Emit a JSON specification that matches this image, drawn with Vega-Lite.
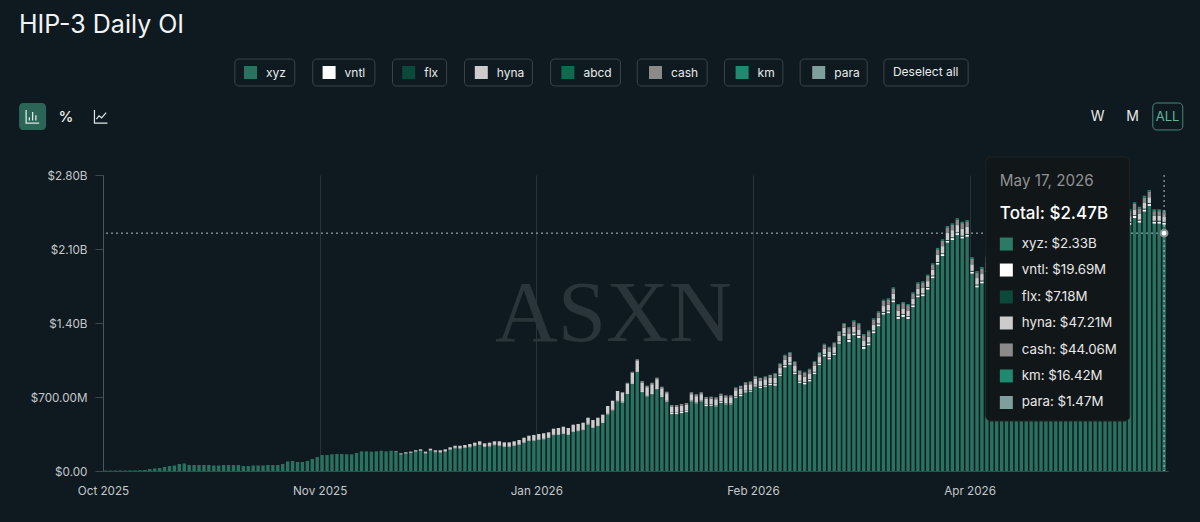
{"$schema":"https://vega.github.io/schema/vega-lite/v6.json",
"width":1065,"height":296,
"autosize":{"type":"none"},
"padding":{"left":103,"top":175,"right":32,"bottom":51},
"background":"#0f1a20",
"title":{"text":"HIP-3 Daily OI","anchor":"start","frame":"group","dx":-84,"offset":21,"fontSize":25,"fontWeight":400,"color":"#f2f4f4","font":"Inter"},
"config":{"view":{"stroke":null},"font":"Inter"},
"datasets":{"oi":[
{"date":"2025-10-14","xyz":4},{"date":"2025-10-15","xyz":4},{"date":"2025-10-16","xyz":4},{"date":"2025-10-17","xyz":5},{"date":"2025-10-18","xyz":5},{"date":"2025-10-19","xyz":5},{"date":"2025-10-20","xyz":5},{"date":"2025-10-21","xyz":7},{"date":"2025-10-22","xyz":10},{"date":"2025-10-23","xyz":19},
{"date":"2025-10-24","xyz":24},{"date":"2025-10-25","xyz":28},{"date":"2025-10-26","xyz":38},{"date":"2025-10-27","xyz":47},{"date":"2025-10-28","xyz":52},{"date":"2025-10-29","xyz":66},{"date":"2025-10-30","xyz":71},{"date":"2025-10-31","xyz":57},
{"date":"2025-11-01","xyz":57},{"date":"2025-11-02","xyz":57},{"date":"2025-11-03","xyz":57},{"date":"2025-11-04","xyz":57},{"date":"2025-11-05","xyz":52},{"date":"2025-11-06","xyz":52},{"date":"2025-11-07","xyz":57},{"date":"2025-11-08","xyz":57},{"date":"2025-11-09","xyz":57},{"date":"2025-11-10","xyz":57},
{"date":"2025-11-11","xyz":47},{"date":"2025-11-12","xyz":47},{"date":"2025-11-13","xyz":52},{"date":"2025-11-14","xyz":52},{"date":"2025-11-15","xyz":52},{"date":"2025-11-16","xyz":57},{"date":"2025-11-17","xyz":57},{"date":"2025-11-18","xyz":57},{"date":"2025-11-19","xyz":66},{"date":"2025-11-20","xyz":90},
{"date":"2025-11-21","xyz":95},{"date":"2025-11-22","xyz":85},{"date":"2025-11-23","xyz":85},{"date":"2025-11-24","xyz":95},{"date":"2025-11-25","xyz":114},{"date":"2025-11-26","xyz":132},{"date":"2025-11-27","xyz":151},{"date":"2025-11-28","xyz":151},{"date":"2025-11-29","xyz":158},{"date":"2025-11-30","xyz":161},
{"date":"2025-12-01","xyz":161},{"date":"2025-12-02","xyz":158},{"date":"2025-12-03","xyz":158},{"date":"2025-12-04","xyz":170},{"date":"2025-12-05","xyz":186},{"date":"2025-12-06","xyz":186},{"date":"2025-12-07","xyz":183},{"date":"2025-12-08","xyz":186},{"date":"2025-12-09","xyz":192},{"date":"2025-12-10","xyz":186},{"date":"2025-12-11","xyz":192},
{"date":"2025-12-12","xyz":186,"vntl":3},{"date":"2025-12-13","xyz":158,"vntl":3,"hyna":6},{"date":"2025-12-14","xyz":165,"vntl":3,"hyna":9},{"date":"2025-12-15","xyz":170,"vntl":3,"hyna":10},{"date":"2025-12-16","xyz":183,"vntl":3,"hyna":10},{"date":"2025-12-17","xyz":190,"vntl":3,"hyna":12},
{"date":"2025-12-18","xyz":167,"vntl":4,"hyna":12},{"date":"2025-12-19","xyz":195,"vntl":4,"hyna":12},{"date":"2025-12-20","xyz":178,"vntl":4,"hyna":14},{"date":"2025-12-21","xyz":176,"vntl":4,"hyna":16},{"date":"2025-12-22","xyz":185,"vntl":4,"hyna":16},
{"date":"2025-12-23","xyz":202,"vntl":4,"hyna":18},{"date":"2025-12-24","xyz":215,"vntl":4,"hyna":20},{"date":"2025-12-25","xyz":213,"vntl":4,"hyna":22},{"date":"2025-12-26","xyz":218,"vntl":4,"hyna":24},{"date":"2025-12-27","xyz":225,"vntl":4,"hyna":26},
{"date":"2025-12-28","xyz":235,"vntl":5,"hyna":28},{"date":"2025-12-29","xyz":246,"vntl":5,"hyna":30},{"date":"2025-12-30","xyz":229,"vntl":5,"hyna":28},{"date":"2025-12-31","xyz":233,"vntl":5,"hyna":30},
{"date":"2026-01-01","xyz":244,"vntl":5,"hyna":32},{"date":"2026-01-02","xyz":241,"vntl":5,"hyna":35},{"date":"2026-01-03","xyz":230,"vntl":5,"hyna":36},{"date":"2026-01-04","xyz":230,"vntl":5,"hyna":36},{"date":"2026-01-05","xyz":238,"vntl":5,"hyna":38},{"date":"2026-01-06","xyz":248,"vntl":5,"hyna":40},
{"date":"2026-01-07","xyz":268,"vntl":5,"hyna":42},{"date":"2026-01-08","xyz":284,"vntl":5,"hyna":45},{"date":"2026-01-09","xyz":288,"vntl":5,"hyna":48},{"date":"2026-01-10","xyz":295,"vntl":5,"hyna":50},{"date":"2026-01-11","xyz":300,"vntl":5,"hyna":52},
{"date":"2026-01-12","xyz":315,"vntl":6,"hyna":45},{"date":"2026-01-13","xyz":339,"vntl":6,"hyna":55},{"date":"2026-01-14","xyz":343,"vntl":6,"hyna":58},{"date":"2026-01-15","xyz":353,"vntl":6,"hyna":60},{"date":"2026-01-16","xyz":343,"vntl":6,"hyna":58},
{"date":"2026-01-17","xyz":372,"vntl":6,"hyna":60},{"date":"2026-01-18","xyz":377,"vntl":6,"hyna":62},{"date":"2026-01-19","xyz":387,"vntl":6,"hyna":64},{"date":"2026-01-20","xyz":440,"vntl":6,"hyna":58},{"date":"2026-01-21","xyz":410,"vntl":6,"hyna":66},
{"date":"2026-01-22","xyz":425,"vntl":7,"hyna":72},{"date":"2026-01-23","xyz":456,"vntl":7,"hyna":70},{"date":"2026-01-24","xyz":536,"vntl":7,"hyna":72},{"date":"2026-01-25","xyz":574,"vntl":7,"hyna":84},{"date":"2026-01-26","xyz":660,"vntl":7,"hyna":90},
{"date":"2026-01-27","xyz":648,"vntl":7,"hyna":88,"cash":4},{"date":"2026-01-28","xyz":730,"vntl":7,"hyna":92,"cash":6},{"date":"2026-01-29","xyz":826,"vntl":7,"hyna":98,"cash":8},{"date":"2026-01-30","xyz":936,"vntl":7,"hyna":104,"cash":10},
{"date":"2026-01-31","xyz":746,"vntl":9,"hyna":82,"cash":14},{"date":"2026-02-01","xyz":706,"vntl":9,"hyna":78,"cash":14},{"date":"2026-02-02","xyz":727,"vntl":9,"hyna":85,"cash":14},{"date":"2026-02-03","xyz":774,"vntl":9,"hyna":86,"cash":14},{"date":"2026-02-04","xyz":702,"vntl":9,"hyna":72,"cash":14},{"date":"2026-02-05","xyz":657,"vntl":9,"hyna":70,"cash":14},
{"date":"2026-02-06","xyz":538,"vntl":10,"flx":3,"hyna":55,"cash":18},{"date":"2026-02-07","xyz":538,"vntl":10,"flx":3,"hyna":55,"cash":18},{"date":"2026-02-08","xyz":548,"vntl":10,"flx":3,"hyna":55,"cash":18},{"date":"2026-02-09","xyz":557,"vntl":10,"flx":3,"hyna":55,"cash":18},{"date":"2026-02-10","xyz":659,"vntl":10,"flx":3,"hyna":55,"cash":18},{"date":"2026-02-11","xyz":640,"vntl":10,"flx":3,"hyna":55,"cash":18},{"date":"2026-02-12","xyz":659,"vntl":10,"flx":3,"hyna":55,"cash":18},
{"date":"2026-02-13","xyz":614,"vntl":10,"flx":3,"hyna":55,"cash":18},{"date":"2026-02-14","xyz":617,"vntl":10,"flx":3,"hyna":55,"cash":18},{"date":"2026-02-15","xyz":611,"vntl":10,"flx":3,"hyna":55,"cash":18},{"date":"2026-02-16","xyz":645,"vntl":10,"flx":3,"hyna":55,"cash":18},{"date":"2026-02-17","xyz":630,"vntl":10,"flx":3,"hyna":55,"cash":18},{"date":"2026-02-18","xyz":630,"vntl":10,"flx":3,"hyna":55,"cash":18},
{"date":"2026-02-19","xyz":693,"vntl":12,"flx":4,"hyna":55,"cash":25,"km":3},{"date":"2026-02-20","xyz":708,"vntl":12,"flx":4,"hyna":55,"cash":25,"km":3},{"date":"2026-02-21","xyz":743,"vntl":12,"flx":4,"hyna":55,"cash":25,"km":3},{"date":"2026-02-22","xyz":750,"vntl":12,"flx":4,"hyna":55,"cash":25,"km":3},{"date":"2026-02-23","xyz":800,"vntl":12,"flx":4,"hyna":55,"cash":25,"km":3},{"date":"2026-02-24","xyz":784,"vntl":12,"flx":4,"hyna":55,"cash":25,"km":3},{"date":"2026-02-25","xyz":797,"vntl":12,"flx":4,"hyna":55,"cash":25,"km":3},{"date":"2026-02-26","xyz":812,"vntl":12,"flx":4,"hyna":55,"cash":25,"km":3},
{"date":"2026-02-27","xyz":807,"vntl":15,"flx":5,"hyna":55,"cash":38,"km":6,"para":1},{"date":"2026-02-28","xyz":899,"vntl":15,"flx":5,"hyna":55,"cash":38,"km":6,"para":1},{"date":"2026-03-01","xyz":980,"vntl":15,"flx":5,"hyna":55,"cash":38,"km":6,"para":1},{"date":"2026-03-02","xyz":1006,"vntl":15,"flx":5,"hyna":55,"cash":38,"km":6,"para":1},{"date":"2026-03-03","xyz":918,"vntl":15,"flx":5,"hyna":55,"cash":38,"km":6,"para":1},{"date":"2026-03-04","xyz":833,"vntl":15,"flx":5,"hyna":55,"cash":38,"km":6,"para":1},{"date":"2026-03-05","xyz":819,"vntl":15,"flx":5,"hyna":55,"cash":38,"km":6,"para":1},{"date":"2026-03-06","xyz":848,"vntl":15,"flx":5,"hyna":55,"cash":38,"km":6,"para":1},
{"date":"2026-03-07","xyz":918,"vntl":15,"flx":5,"hyna":55,"cash":38,"km":6,"para":1},{"date":"2026-03-08","xyz":1003,"vntl":15,"flx":5,"hyna":55,"cash":38,"km":6,"para":1},{"date":"2026-03-09","xyz":1084,"vntl":15,"flx":5,"hyna":55,"cash":38,"km":6,"para":1},{"date":"2026-03-10","xyz":1056,"vntl":15,"flx":5,"hyna":55,"cash":38,"km":6,"para":1},{"date":"2026-03-11","xyz":1097,"vntl":15,"flx":5,"hyna":55,"cash":38,"km":6,"para":1},{"date":"2026-03-12","xyz":1204,"vntl":15,"flx":5,"hyna":55,"cash":38,"km":6,"para":1},{"date":"2026-03-13","xyz":1280,"vntl":15,"flx":5,"hyna":55,"cash":38,"km":6,"para":1},
{"date":"2026-03-14","xyz":1221,"vntl":18,"flx":7,"hyna":55,"cash":50,"km":10,"para":1},{"date":"2026-03-15","xyz":1285,"vntl":18,"flx":7,"hyna":55,"cash":50,"km":10,"para":1},{"date":"2026-03-16","xyz":1259,"vntl":18,"flx":7,"hyna":55,"cash":50,"km":10,"para":1},{"date":"2026-03-17","xyz":1155,"vntl":18,"flx":7,"hyna":55,"cash":50,"km":10,"para":1},{"date":"2026-03-18","xyz":1190,"vntl":18,"flx":7,"hyna":55,"cash":50,"km":10,"para":1},{"date":"2026-03-19","xyz":1304,"vntl":18,"flx":7,"hyna":55,"cash":50,"km":10,"para":1},
{"date":"2026-03-20","xyz":1370,"vntl":18,"flx":7,"hyna":55,"cash":50,"km":10,"para":1},{"date":"2026-03-21","xyz":1480,"vntl":18,"flx":7,"hyna":55,"cash":50,"km":10,"para":1},{"date":"2026-03-22","xyz":1493,"vntl":18,"flx":7,"hyna":55,"cash":50,"km":10,"para":1},{"date":"2026-03-23","xyz":1597,"vntl":18,"flx":7,"hyna":55,"cash":50,"km":10,"para":1},{"date":"2026-03-24","xyz":1439,"vntl":18,"flx":7,"hyna":55,"cash":50,"km":10,"para":1},{"date":"2026-03-25","xyz":1458,"vntl":18,"flx":7,"hyna":55,"cash":50,"km":10,"para":1},
{"date":"2026-03-26","xyz":1439,"vntl":18,"flx":7,"hyna":55,"cash":50,"km":10,"para":1},{"date":"2026-03-27","xyz":1550,"vntl":18,"flx":7,"hyna":55,"cash":50,"km":10,"para":1},{"date":"2026-03-28","xyz":1644,"vntl":18,"flx":7,"hyna":55,"cash":50,"km":10,"para":1},{"date":"2026-03-29","xyz":1654,"vntl":18,"flx":7,"hyna":55,"cash":50,"km":10,"para":1},{"date":"2026-03-30","xyz":1716,"vntl":18,"flx":7,"hyna":55,"cash":50,"km":10,"para":1},{"date":"2026-03-31","xyz":1824,"vntl":18,"flx":7,"hyna":55,"cash":50,"km":10,"para":1},
{"date":"2026-04-01","xyz":1952,"vntl":18,"flx":7,"hyna":68,"cash":52,"km":12,"para":1},{"date":"2026-04-02","xyz":2034,"vntl":18,"flx":7,"hyna":68,"cash":52,"km":12,"para":1},{"date":"2026-04-03","xyz":2160,"vntl":18,"flx":7,"hyna":68,"cash":52,"km":12,"para":1},{"date":"2026-04-04","xyz":2185,"vntl":18,"flx":7,"hyna":68,"cash":52,"km":12,"para":1},{"date":"2026-04-05","xyz":2233,"vntl":18,"flx":7,"hyna":68,"cash":52,"km":12,"para":1},{"date":"2026-04-06","xyz":2200,"vntl":18,"flx":7,"hyna":68,"cash":52,"km":12,"para":1},{"date":"2026-04-07","xyz":2216,"vntl":18,"flx":7,"hyna":68,"cash":52,"km":12,"para":1},
{"date":"2026-04-08","xyz":1867,"vntl":19,"flx":7,"hyna":62,"cash":52,"km":14,"para":1},{"date":"2026-04-09","xyz":1737,"vntl":19,"flx":7,"hyna":62,"cash":52,"km":14,"para":1},{"date":"2026-04-10","xyz":1775,"vntl":19,"flx":7,"hyna":62,"cash":52,"km":14,"para":1},{"date":"2026-04-11","xyz":1882,"vntl":19,"flx":7,"hyna":62,"cash":52,"km":14,"para":1},{"date":"2026-04-12","xyz":1945,"vntl":19,"flx":7,"hyna":62,"cash":52,"km":14,"para":1},{"date":"2026-04-13","xyz":1983,"vntl":19,"flx":7,"hyna":62,"cash":52,"km":14,"para":1},{"date":"2026-04-14","xyz":2040,"vntl":19,"flx":7,"hyna":62,"cash":52,"km":14,"para":1},{"date":"2026-04-15","xyz":2002,"vntl":19,"flx":7,"hyna":62,"cash":52,"km":14,"para":1},
{"date":"2026-04-16","xyz":1964,"vntl":19,"flx":7,"hyna":62,"cash":52,"km":14,"para":1},{"date":"2026-04-17","xyz":1907,"vntl":19,"flx":7,"hyna":62,"cash":52,"km":14,"para":1},{"date":"2026-04-18","xyz":1945,"vntl":19,"flx":7,"hyna":62,"cash":52,"km":14,"para":1},{"date":"2026-04-19","xyz":2002,"vntl":19,"flx":7,"hyna":62,"cash":52,"km":14,"para":1},{"date":"2026-04-20","xyz":2059,"vntl":19,"flx":7,"hyna":62,"cash":52,"km":14,"para":1},{"date":"2026-04-21","xyz":2096,"vntl":19,"flx":7,"hyna":62,"cash":52,"km":14,"para":1},{"date":"2026-04-22","xyz":2068,"vntl":19,"flx":7,"hyna":62,"cash":52,"km":14,"para":1},{"date":"2026-04-23","xyz":2115,"vntl":19,"flx":7,"hyna":62,"cash":52,"km":14,"para":1},
{"date":"2026-04-24","xyz":2153,"vntl":19,"flx":7,"hyna":62,"cash":52,"km":14,"para":1},{"date":"2026-04-25","xyz":2115,"vntl":19,"flx":7,"hyna":62,"cash":52,"km":14,"para":1},{"date":"2026-04-26","xyz":2172,"vntl":19,"flx":7,"hyna":62,"cash":52,"km":14,"para":1},{"date":"2026-04-27","xyz":2210,"vntl":19,"flx":7,"hyna":62,"cash":52,"km":14,"para":1},{"date":"2026-04-28","xyz":2257,"vntl":19,"flx":7,"hyna":62,"cash":52,"km":14,"para":1},{"date":"2026-04-29","xyz":2210,"vntl":19,"flx":7,"hyna":62,"cash":52,"km":14,"para":1},{"date":"2026-04-30","xyz":2163,"vntl":19,"flx":7,"hyna":62,"cash":52,"km":14,"para":1},
{"date":"2026-05-01","xyz":2210,"vntl":19,"flx":7,"hyna":62,"cash":52,"km":14,"para":1},{"date":"2026-05-02","xyz":2257,"vntl":19,"flx":7,"hyna":62,"cash":52,"km":14,"para":1},{"date":"2026-05-03","xyz":2286,"vntl":19,"flx":7,"hyna":62,"cash":52,"km":14,"para":1},{"date":"2026-05-04","xyz":2324,"vntl":19,"flx":7,"hyna":62,"cash":52,"km":14,"para":1},{"date":"2026-05-05","xyz":2286,"vntl":19,"flx":7,"hyna":62,"cash":52,"km":14,"para":1},{"date":"2026-05-06","xyz":2229,"vntl":19,"flx":7,"hyna":62,"cash":52,"km":14,"para":1},{"date":"2026-05-07","xyz":2267,"vntl":19,"flx":7,"hyna":62,"cash":52,"km":14,"para":1},{"date":"2026-05-08","xyz":2305,"vntl":19,"flx":7,"hyna":62,"cash":52,"km":14,"para":1},{"date":"2026-05-09","xyz":2324,"vntl":19,"flx":7,"hyna":62,"cash":52,"km":14,"para":1},
{"date":"2026-05-10","xyz":2329,"vntl":20,"flx":7,"hyna":55,"cash":52,"km":15,"para":1},{"date":"2026-05-11","xyz":2392,"vntl":20,"flx":7,"hyna":55,"cash":52,"km":15,"para":1},{"date":"2026-05-12","xyz":2350,"vntl":20,"flx":7,"hyna":55,"cash":52,"km":15,"para":1},{"date":"2026-05-13","xyz":2454,"vntl":20,"flx":7,"hyna":55,"cash":52,"km":15,"para":1},{"date":"2026-05-14","xyz":2508,"vntl":20,"flx":7,"hyna":55,"cash":52,"km":15,"para":1},
{"date":"2026-05-15","xyz":2340,"vntl":19.69,"flx":7.18,"hyna":47.21,"cash":44.06,"km":16.42,"para":1.47},{"date":"2026-05-16","xyz":2340,"vntl":19.69,"flx":7.18,"hyna":47.21,"cash":44.06,"km":16.42,"para":1.47},{"date":"2026-05-17","xyz":2330,"vntl":19.69,"flx":7.18,"hyna":47.21,"cash":44.06,"km":16.42,"para":1.47}
],
"one":[{}]},
"layer":[
{"data":{"name":"one"},"mark":{"type":"text","text":"ASXN","font":"Liberation Serif","fontSize":87,"color":"#2a3439"},
 "encoding":{"x":{"datum":{"year":2026,"month":1,"date":25,"hours":3,"minutes":30,"utc":true},"type":"temporal"},"y":{"datum":1476}}},
{"data":{"name":"oi"},
 "transform":[
  {"fold":["xyz","vntl","flx","hyna","cash","km","para"],"as":["series","value"]},
  {"filter":"isValid(datum.value)"},
  {"lookup":"series","from":{"data":{"values":[{"series":"xyz","rank":1},{"series":"vntl","rank":2},{"series":"flx","rank":3},{"series":"hyna","rank":4},{"series":"cash","rank":5},{"series":"km","rank":6},{"series":"para","rank":7}]},"key":"series","fields":["rank"]}}
 ],
 "mark":{"type":"bar","width":3.4},
 "encoding":{
  "x":{"field":"date","type":"temporal","title":null,
   "scale":{"type":"utc","padding":0,"domain":["2025-10-13T12:00:00Z","2026-05-17T19:00:00Z"]},
   "axis":{"values":["2025-10-13T12:00:00Z","2025-11-26T12:00:00Z","2026-01-09T12:00:00Z","2026-02-22T12:00:00Z","2026-04-07T12:00:00Z"],
    "labelExpr":"utcFormat(datum.value,'%b %Y')","grid":true,"gridColor":"#2a3338","ticks":false,"domainColor":"#3a4a4b","labelColor":"#c4c8ca","labelFontSize":11.7,"labelPadding":14,"labelFlush":false,"labelOverlap":false}},
  "y":{"field":"value","type":"quantitative","stack":"zero","title":null,
   "scale":{"domain":[0,2800],"nice":false},
   "axis":{"values":[0,700,1400,2100,2800],"labelExpr":"datum.value>=1000?'$'+format(datum.value/1000,'.2f')+'B':'$'+format(datum.value,'.2f')+(datum.value>0?'M':'')","grid":false,"tickSize":8,"tickColor":"#3d474c","domainColor":"#4d565a","labelColor":"#c4c8ca","labelFontSize":11.7,"labelPadding":8}},
  "order":{"field":"rank","type":"quantitative"},
  "color":{"field":"series","type":"nominal",
   "scale":{"domain":["xyz","vntl","flx","hyna","abcd","cash","km","para"],"range":["#277360","#ffffff","#0b4a3a","#cccccc","#0f6a50","#8a8a8a","#1f8a70","#7f9f9c"]},
   "legend":{"title":null,"orient":"none","legendX":141,"legendY":-109,"direction":"horizontal","columns":8,"symbolType":"square","symbolSize":169,"symbolStrokeWidth":0,"symbolOpacity":1,"labelColor":"#e8eaea","labelFontSize":12,"labelOffset":9,"columnPadding":36.6}}
 }},
{"data":{"name":"one"},"mark":{"type":"rule","color":"#b8bec0","strokeDash":[2,3],"strokeWidth":1},
 "encoding":{"y":{"datum":2250}}},
{"data":{"name":"one"},"mark":{"type":"rule","color":"#b8bec0","strokeDash":[2,3],"strokeWidth":1},
 "encoding":{"x":{"datum":{"year":2026,"month":5,"date":17,"utc":true},"type":"temporal"}}},
{"data":{"name":"one"},"mark":{"type":"point","filled":true,"size":45,"color":"#ffffff","stroke":"#8a8f91","strokeWidth":2,"opacity":1},
 "encoding":{"x":{"datum":{"year":2026,"month":5,"date":17,"utc":true},"type":"temporal"},"y":{"datum":2250}}},
{"data":{"name":"one"},
 "encoding":{"y":{"datum":3897},"y2":{"datum":3642}},
 "layer":[
  {"mark":{"type":"rect","fillOpacity":0,"stroke":"#3a4448","strokeWidth":1,"cornerRadius":4},"encoding":{"x":{"datum":{"year":2025,"month":11,"date":9,"hours":6,"minutes":30,"utc":true},"type":"temporal"},"x2":{"datum":{"year":2025,"month":11,"date":21,"hours":10,"minutes":48,"utc":true}}}},
  {"mark":{"type":"rect","fillOpacity":0,"stroke":"#3a4448","strokeWidth":1,"cornerRadius":4},"encoding":{"x":{"datum":{"year":2025,"month":11,"date":25,"hours":2,"minutes":24,"utc":true},"type":"temporal"},"x2":{"datum":{"year":2025,"month":12,"date":7,"hours":17,"utc":true}}}},
  {"mark":{"type":"rect","fillOpacity":0,"stroke":"#3a4448","strokeWidth":1,"cornerRadius":4},"encoding":{"x":{"datum":{"year":2025,"month":12,"date":11,"hours":7,"utc":true},"type":"temporal"},"x2":{"datum":{"year":2025,"month":12,"date":22,"hours":7,"utc":true}}}},
  {"mark":{"type":"rect","fillOpacity":0,"stroke":"#3a4448","strokeWidth":1,"cornerRadius":4},"encoding":{"x":{"datum":{"year":2025,"month":12,"date":25,"hours":22,"utc":true},"type":"temporal"},"x2":{"datum":{"year":2026,"month":1,"date":8,"hours":17,"utc":true}}}},
  {"mark":{"type":"rect","fillOpacity":0,"stroke":"#3a4448","strokeWidth":1,"cornerRadius":4},"encoding":{"x":{"datum":{"year":2026,"month":1,"date":12,"hours":10,"utc":true},"type":"temporal"},"x2":{"datum":{"year":2026,"month":1,"date":26,"hours":14,"utc":true}}}},
  {"mark":{"type":"rect","fillOpacity":0,"stroke":"#3a4448","strokeWidth":1,"cornerRadius":4},"encoding":{"x":{"datum":{"year":2026,"month":1,"date":30,"utc":true},"type":"temporal"},"x2":{"datum":{"year":2026,"month":2,"date":13,"hours":5,"utc":true}}}},
  {"mark":{"type":"rect","fillOpacity":0,"stroke":"#3a4448","strokeWidth":1,"cornerRadius":4},"encoding":{"x":{"datum":{"year":2026,"month":2,"date":16,"hours":17,"utc":true},"type":"temporal"},"x2":{"datum":{"year":2026,"month":2,"date":28,"hours":14,"utc":true}}}},
  {"mark":{"type":"rect","fillOpacity":0,"stroke":"#3a4448","strokeWidth":1,"cornerRadius":4},"encoding":{"x":{"datum":{"year":2026,"month":3,"date":4,"hours":2,"utc":true},"type":"temporal"},"x2":{"datum":{"year":2026,"month":3,"date":17,"hours":17,"utc":true}}}},
  {"mark":{"type":"rect","fillOpacity":0,"stroke":"#3a4448","strokeWidth":1,"cornerRadius":4},"encoding":{"x":{"datum":{"year":2026,"month":3,"date":21,"hours":2,"utc":true},"type":"temporal"},"x2":{"datum":{"year":2026,"month":4,"date":7,"hours":5,"utc":true}}}}
 ]},
{"data":{"name":"one"},"mark":{"type":"text","text":"Deselect all","fontSize":12,"color":"#e8eaea"},
 "encoding":{"x":{"datum":{"year":2026,"month":3,"date":29,"hours":14,"utc":true},"type":"temporal"},"y":{"datum":3770}}},
{"data":{"name":"one"},"mark":{"type":"rect","fill":"#2a6555","cornerRadius":4},
 "encoding":{"x":{"datum":{"year":2025,"month":9,"date":26,"hours":11,"utc":true},"type":"temporal"},"x2":{"datum":{"year":2025,"month":10,"date":1,"hours":22,"minutes":30,"utc":true}},"y":{"datum":3481},"y2":{"datum":3226}}},
{"data":{"name":"one"},"mark":{"type":"point","shape":"M-1 -1V1H1M-.5 .6V.1M0 .6V-.7M.5 .6V-.2","filled":false,"size":169,"stroke":"#dfe5e4","strokeWidth":1.3,"opacity":1},
 "encoding":{"x":{"datum":{"year":2025,"month":9,"date":29,"hours":5,"utc":true},"type":"temporal"},"y":{"datum":3353}}},
{"data":{"name":"one"},"mark":{"type":"text","text":"%","fontSize":15,"fontWeight":500,"color":"#f0f2f2"},
 "encoding":{"x":{"datum":{"year":2025,"month":10,"date":6,"utc":true},"type":"temporal"},"y":{"datum":3353}}},
{"data":{"name":"one"},"mark":{"type":"point","shape":"M-1 -1V1H1M-.7 .4L-.3 -.1L.1 .2L.8 -.6","filled":false,"size":169,"stroke":"#dfe5e4","strokeWidth":1.2,"opacity":1},
 "encoding":{"x":{"datum":{"year":2025,"month":10,"date":13,"hours":2,"utc":true},"type":"temporal"},"y":{"datum":3353}}},
{"data":{"name":"one"},"mark":{"type":"text","text":"W","fontSize":14,"color":"#e8eaea"},
 "encoding":{"x":{"datum":{"year":2026,"month":5,"date":3,"hours":12,"utc":true},"type":"temporal"},"y":{"datum":3353}}},
{"data":{"name":"one"},"mark":{"type":"text","text":"M","fontSize":14,"color":"#e8eaea"},
 "encoding":{"x":{"datum":{"year":2026,"month":5,"date":10,"hours":14,"utc":true},"type":"temporal"},"y":{"datum":3353}}},
{"data":{"name":"one"},"mark":{"type":"rect","fillOpacity":0,"stroke":"#3f8a78","strokeWidth":1,"cornerRadius":4},
 "encoding":{"x":{"datum":{"year":2026,"month":5,"date":14,"hours":17,"utc":true},"type":"temporal"},"x2":{"datum":{"year":2026,"month":5,"date":20,"hours":19,"utc":true}},"y":{"datum":3481},"y2":{"datum":3226}}},
{"data":{"name":"one"},"mark":{"type":"text","text":"ALL","fontSize":13,"color":"#5fb39c"},
 "encoding":{"x":{"datum":{"year":2026,"month":5,"date":17,"hours":17,"utc":true},"type":"temporal"},"y":{"datum":3353}}},
{"data":{"name":"one"},"mark":{"type":"rect","fill":"#111618","stroke":"#1e2427","strokeWidth":1,"cornerRadius":5},
 "encoding":{"x":{"datum":{"year":2026,"month":4,"date":10,"hours":19,"utc":true},"type":"temporal"},"x2":{"datum":{"year":2026,"month":5,"date":10,"utc":true}},"y":{"datum":2970},"y2":{"datum":473}}},
{"data":{"name":"one"},"mark":{"type":"text","text":"May 17, 2026","align":"left","fontSize":15.2,"color":"#8e9294"},
 "encoding":{"x":{"datum":{"year":2026,"month":4,"date":13,"hours":15,"minutes":30,"utc":true},"type":"temporal"},"y":{"datum":2743}}},
{"data":{"name":"one"},"mark":{"type":"text","text":"Total: $2.47B","align":"left","fontSize":17,"fontWeight":500,"color":"#ffffff"},
 "encoding":{"x":{"datum":{"year":2026,"month":4,"date":13,"hours":15,"minutes":30,"utc":true},"type":"temporal"},"y":{"datum":2431}}},
{"data":{"name":"one"},"encoding":{"y":{"datum":2147}},"layer":[
  {"mark":{"type":"point","shape":"square","filled":true,"size":169,"color":"#2b7a66","opacity":1},"encoding":{"x":{"datum":{"year":2026,"month":4,"date":14,"hours":23,"utc":true},"type":"temporal"}}},
  {"mark":{"type":"text","text":"xyz: $2.33B","align":"left","fontSize":13.3,"color":"#e8e8e8"},"encoding":{"x":{"datum":{"year":2026,"month":4,"date":18,"hours":2,"minutes":30,"utc":true},"type":"temporal"}}}]},
{"data":{"name":"one"},"encoding":{"y":{"datum":1901}},"layer":[
  {"mark":{"type":"point","shape":"square","filled":true,"size":169,"color":"#ffffff","opacity":1},"encoding":{"x":{"datum":{"year":2026,"month":4,"date":14,"hours":23,"utc":true},"type":"temporal"}}},
  {"mark":{"type":"text","text":"vntl: $19.69M","align":"left","fontSize":13.3,"color":"#e8e8e8"},"encoding":{"x":{"datum":{"year":2026,"month":4,"date":18,"hours":2,"minutes":30,"utc":true},"type":"temporal"}}}]},
{"data":{"name":"one"},"encoding":{"y":{"datum":1646}},"layer":[
  {"mark":{"type":"point","shape":"square","filled":true,"size":169,"color":"#0b4a3a","opacity":1},"encoding":{"x":{"datum":{"year":2026,"month":4,"date":14,"hours":23,"utc":true},"type":"temporal"}}},
  {"mark":{"type":"text","text":"flx: $7.18M","align":"left","fontSize":13.3,"color":"#e8e8e8"},"encoding":{"x":{"datum":{"year":2026,"month":4,"date":18,"hours":2,"minutes":30,"utc":true},"type":"temporal"}}}]},
{"data":{"name":"one"},"encoding":{"y":{"datum":1400}},"layer":[
  {"mark":{"type":"point","shape":"square","filled":true,"size":169,"color":"#cccccc","opacity":1},"encoding":{"x":{"datum":{"year":2026,"month":4,"date":14,"hours":23,"utc":true},"type":"temporal"}}},
  {"mark":{"type":"text","text":"hyna: $47.21M","align":"left","fontSize":13.3,"color":"#e8e8e8"},"encoding":{"x":{"datum":{"year":2026,"month":4,"date":18,"hours":2,"minutes":30,"utc":true},"type":"temporal"}}}]},
{"data":{"name":"one"},"encoding":{"y":{"datum":1145}},"layer":[
  {"mark":{"type":"point","shape":"square","filled":true,"size":169,"color":"#8a8a8a","opacity":1},"encoding":{"x":{"datum":{"year":2026,"month":4,"date":14,"hours":23,"utc":true},"type":"temporal"}}},
  {"mark":{"type":"text","text":"cash: $44.06M","align":"left","fontSize":13.3,"color":"#e8e8e8"},"encoding":{"x":{"datum":{"year":2026,"month":4,"date":18,"hours":2,"minutes":30,"utc":true},"type":"temporal"}}}]},
{"data":{"name":"one"},"encoding":{"y":{"datum":899}},"layer":[
  {"mark":{"type":"point","shape":"square","filled":true,"size":169,"color":"#1f8a70","opacity":1},"encoding":{"x":{"datum":{"year":2026,"month":4,"date":14,"hours":23,"utc":true},"type":"temporal"}}},
  {"mark":{"type":"text","text":"km: $16.42M","align":"left","fontSize":13.3,"color":"#e8e8e8"},"encoding":{"x":{"datum":{"year":2026,"month":4,"date":18,"hours":2,"minutes":30,"utc":true},"type":"temporal"}}}]},
{"data":{"name":"one"},"encoding":{"y":{"datum":648}},"layer":[
  {"mark":{"type":"point","shape":"square","filled":true,"size":169,"color":"#7f9f9c","opacity":1},"encoding":{"x":{"datum":{"year":2026,"month":4,"date":14,"hours":23,"utc":true},"type":"temporal"}}},
  {"mark":{"type":"text","text":"para: $1.47M","align":"left","fontSize":13.3,"color":"#e8e8e8"},"encoding":{"x":{"datum":{"year":2026,"month":4,"date":18,"hours":2,"minutes":30,"utc":true},"type":"temporal"}}}]}
]}
